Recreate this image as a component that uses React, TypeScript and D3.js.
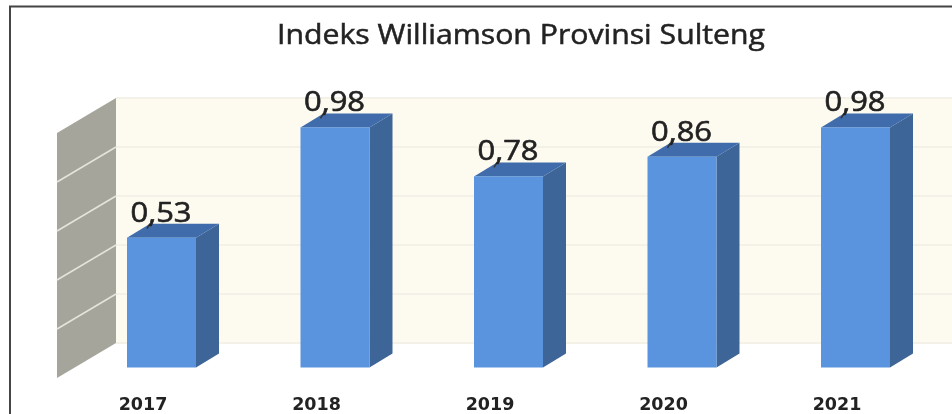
import React from "react";
import * as d3 from "d3";

const title = "Indeks Williamson Provinsi Sulteng";
const years = ["2017", "2018", "2019", "2020", "2021"];
const values = [0.53, 0.98, 0.78, 0.86, 0.98];
const valueLabels = ["0,53", "0,98", "0,78", "0,86", "0,98"];
const gridTicks = [0, 0.2, 0.4, 0.6, 0.8, 1];

const W = 952, H = 414;
const DX = 23, DY = -14;
const WALL_DX = 59, WALL_DY = 35;
const x = d3.scaleBand<string>().domain(years).range([127 - 52.25, 127 - 52.25 + 173.5 * 5]).paddingInner(104.5 / 173.5).paddingOuter(52.25 / 173.5);
const y = d3.scaleLinear().domain([0, 1]).range([367.5, 122.5]);
const backY = (v: number) => y(v) - 24.5;
const wallX = 116;
const line = d3.line();

export default function App() {
  const bw = 69;
  return (
    <svg width={W} height={H} viewBox={`0 0 ${W} ${H}`} style={{ position: "fixed", left: 0, top: 0, background: "#fff" }}>
      <defs>
        <filter id="soft" x="-5%" y="-5%" width="110%" height="110%">
          <feGaussianBlur stdDeviation="0.6" />
        </filter>
      </defs>
      <g filter="url(#soft)">
        <path d={line([[10, H], [10, 6.5], [W, 6.5]]) as string} fill="none" stroke="#444" strokeWidth={2} />
        <rect x={wallX} y={backY(1)} width={W - wallX} height={backY(0) - backY(1)} fill="#fdfaf0" />
        <path
          d={line([[wallX, backY(1)], [wallX, backY(0)], [wallX - WALL_DX, backY(0) + WALL_DY], [wallX - WALL_DX, backY(1) + WALL_DY]]) + "Z"}
          fill="#a5a59c"
        />
        {gridTicks.map((t) => (
          <g key={t}>
            <line x1={wallX} x2={W} y1={backY(t)} y2={backY(t)} stroke="#f3f1e8" strokeWidth={2} />
            {t > 0 && t < 1 && (
              <line x1={wallX} x2={wallX - WALL_DX} y1={backY(t)} y2={backY(t) + WALL_DY} stroke="#e4e3dc" strokeWidth={1.6} />
            )}
          </g>
        ))}
        {years.map((yr, i) => {
          const x0 = x(yr) as number;
          const top = y(values[i]);
          const base = y(0);
          return (
            <g key={yr}>
              <path d={line([[x0 + bw, top], [x0 + bw + DX, top + DY], [x0 + bw + DX, base + DY], [x0 + bw, base]]) + "Z"} fill="#3d6597" />
              <path d={line([[x0, top], [x0 + DX, top + DY], [x0 + bw + DX, top + DY], [x0 + bw, top]]) + "Z"} fill="#3f6cab" />
              <rect x={x0} y={top} width={bw} height={base - top} fill="#5a94de" />
              <line x1={x0 + 20} x2={x0 + 23} y1={top - 9} y2={top - 14} stroke="#333" strokeWidth={1.5} />
              <text x={x0 + 34} y={top + DY - 2} textAnchor="middle" textLength={61} lengthAdjust="spacingAndGlyphs" fontFamily="'Open Sans', sans-serif" fontSize={27} fill="#222" stroke="#222" strokeWidth={0.6}>
                {valueLabels[i]}
              </text>
              <text x={x0 + 16} y={410} textAnchor="middle" fontFamily="'DejaVu Sans', sans-serif" fontWeight="bold" fontSize={17.5} fill="#222">
                {yr}
              </text>
            </g>
          );
        })}
        <text x={521} y={44} textAnchor="middle" textLength={488} lengthAdjust="spacingAndGlyphs" fontFamily="'Open Sans', sans-serif" fontSize={27} fill="#222" stroke="#222" strokeWidth={0.5}>
          {title}
        </text>
      </g>
    </svg>
  );
}
